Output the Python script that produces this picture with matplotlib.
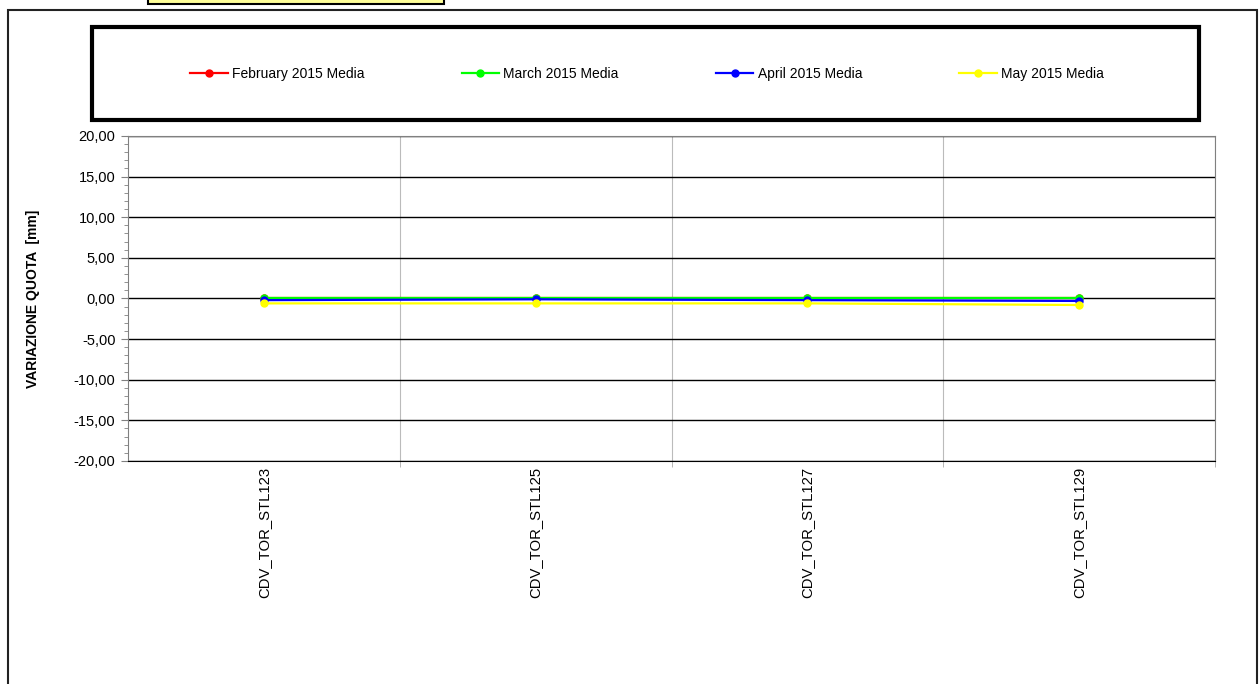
import matplotlib.pyplot as plt
from matplotlib.patches import Rectangle
from matplotlib.ticker import MultipleLocator, FuncFormatter, FixedLocator

plt.rcParams['font.family'] = ['Liberation Sans', 'DejaVu Sans']

# data
categories = ['CDV_TOR_STL123', 'CDV_TOR_STL125', 'CDV_TOR_STL127', 'CDV_TOR_STL129']
series_names = ['February 2015 Media', 'March 2015 Media', 'April 2015 Media', 'May 2015 Media']
feb_vals = [0.0, 0.0, 0.0, 0.0]
mar_vals = [0.05, 0.05, 0.05, 0.05]
apr_vals = [-0.2, -0.1, -0.2, -0.3]
may_vals = [-0.6, -0.6, -0.6, -0.8]
series_colors = ['#ff0000', '#00ff00', '#0000ff', '#ffff00']
y_ticks = [-20, -15, -10, -5, 0, 5, 10, 15, 20]

W, H = 1259, 684
fig = plt.figure(figsize=(W / 100, H / 100), dpi=100)
fig.patch.set_facecolor('white')

def fig_rect(x0, y0, x1, y1, **kw):
    # pixel box (top-left origin) -> figure coords
    r = Rectangle((x0 / W, 1 - y1 / H), (x1 - x0) / W, (y1 - y0) / H,
                  transform=fig.transFigure, **kw)
    fig.patches.append(r)
    return r

# outer frame and the little yellow box at the top
fig_rect(8, 10, 1257, 700, fill=False, edgecolor='#222222', linewidth=1.5)
fig_rect(148, -10, 444, 4, facecolor='#ffff99', edgecolor='black', linewidth=1.5)
# legend box with shadow
fig_rect(94, 29, 1201, 122, facecolor='#999999', edgecolor='none', linewidth=0)
fig_rect(92, 27, 1199, 120, facecolor='white', edgecolor='black', linewidth=3)

ax = fig.add_axes([128 / W, 1 - 461 / H, (1215 - 128) / W, (461 - 136) / H])
x = list(range(len(categories)))
all_vals = [feb_vals, mar_vals, apr_vals, may_vals]
for name, vals, col in zip(series_names, all_vals, series_colors):
    ax.plot(x, vals, color=col, linewidth=1.6, marker='o', markersize=5,
            label=name, zorder=3)

ax.set_xlim(-0.5, len(categories) - 0.5)
ax.set_ylim(-20, 20)
ax.set_yticks(y_ticks)
ax.yaxis.set_minor_locator(MultipleLocator(1))
ax.yaxis.set_major_formatter(FuncFormatter(lambda v, p: f'{v:.2f}'.replace('.', ',')))
ax.set_xticks(x)
ax.set_xticklabels(categories, rotation=90, fontsize=10.7, va='top')
ax.xaxis.set_minor_locator(FixedLocator([0.5, 1.5, 2.5, 3.5]))
ax.tick_params(axis='x', which='major', length=0, pad=4)
ax.tick_params(axis='x', which='minor', length=4, color='#aaaaaa')
ax.tick_params(axis='y', which='major', length=5, color='#808080', labelsize=10.5, pad=4)
ax.tick_params(axis='y', which='minor', length=3, color='#808080')

ax.grid(axis='y', which='major', color='black', linewidth=1, zorder=1)
ax.grid(axis='x', which='minor', color='#bbbbbb', linewidth=0.8, zorder=1)
for s in ax.spines.values():
    s.set_color('#808080')
ax.spines['bottom'].set_color('black')
ax.set_axisbelow(True)

ax.set_ylabel('VARIAZIONE QUOTA  [mm]', fontsize=10, fontweight='bold', labelpad=24)

fig.legend(loc='center', bbox_to_anchor=(647 / W, 1 - 74 / H), ncol=4, frameon=False,
           fontsize=10, handlelength=2.7, handletextpad=0.3, columnspacing=7.0)

fig.savefig('out.png', dpi=100)
